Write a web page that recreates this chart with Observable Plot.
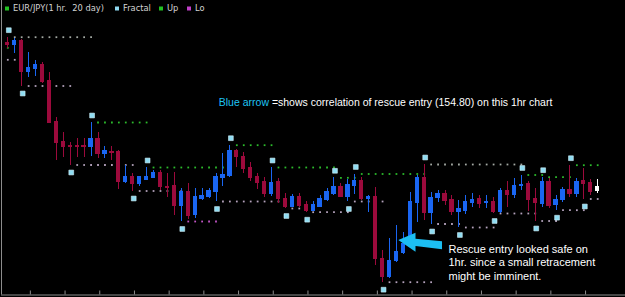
<!DOCTYPE html>
<html><head><meta charset="utf-8">
<script src="https://cdn.jsdelivr.net/npm/d3@7"></script>
<script src="https://cdn.jsdelivr.net/npm/@observablehq/plot@0.6"></script>
<style>
html,body{margin:0;padding:0;background:#000;overflow:hidden}
#chart svg{display:block}
</style>
</head><body><div id="chart"></div>
<script>
// ---- candle data (EUR/JPY, 1 hr bars) ----
const open = [
158.786,158.754,158.826,158.206,158.274,158.354,158.04,157.206,156.806,156.73,
156.73,156.74,156.706,156.874,156.574,156.62,156.606,156.006,156.12,155.974,
156.06,156.094,156.186,155.92,155.94,155.54,155.806,155.35,155.674,155.72,
155.82,156.094,156.14,156.64,156.52,156.294,156.11,156.02,155.774,156.02,
155.674,155.52,155.72,155.554,155.44,155.52,155.654,155.78,155.906,155.72,
155.94,156.04,155.67,155.706,154.474,154.106,154.426,154.586,154.774,155.586,
156.094,155.386,155.694,155.78,155.66,155.406,155.44,155.596,155.67,155.586,
155.62,155.406,155.84,155.756,155.94,155.974,155.674,155.574,156.006,155.554,
155.654,155.854,155.774,156.026,155.986,155.83];
const high = [
158.906,158.89,158.854,158.606,158.44,158.406,158.194,157.306,157.006,156.806,
156.874,156.874,157.2,157.006,156.72,156.72,156.64,156.34,156.174,156.12,
156.3,156.24,156.24,156.18,156.206,155.874,155.974,155.874,155.874,155.886,
156.174,156.574,156.746,156.654,156.606,156.406,156.19,156.106,156.30,156.09,
155.78,155.77,155.774,155.626,155.62,155.74,155.874,156.094,155.974,156.07,
156.17,156.106,155.74,155.906,154.64,154.874,155.14,155.00,155.806,156.14,
156.36,155.806,155.84,155.84,155.74,155.64,155.74,155.774,155.74,155.74,
155.70,155.874,156.02,156.086,156.15,156.03,155.874,156.106,156.074,155.75,
155.906,156.346,156.074,156.29,156.06,156.06];
const low = [
158.674,158.586,157.93,158.106,158.12,157.974,157.174,156.44,156.506,156.35,
156.506,156.506,156.52,156.474,156.474,156.44,155.86,155.974,155.83,155.92,
156.04,156.074,155.84,155.706,155.34,155.22,155.27,155.274,155.64,155.686,
155.62,155.92,156.106,156.306,156.174,156.03,155.86,155.706,155.72,155.59,
155.48,155.494,155.51,155.406,155.424,155.494,155.626,155.74,155.694,155.62,
155.76,155.64,155.406,154.34,154.006,154.09,154.406,154.57,154.74,155.21,
155.24,155.17,155.606,155.54,155.34,155.10,155.36,155.506,155.474,155.474,
155.38,155.39,155.506,155.674,155.84,155.43,155.23,155.506,155.474,155.446,
155.606,155.71,155.70,155.67,155.74,155.774];
const close = [
158.76,158.826,158.206,158.294,158.354,158.02,157.186,156.786,156.706,156.71,
156.71,156.706,156.874,156.574,156.626,156.586,156.006,156.12,155.974,156.106,
156.12,156.186,155.92,155.90,155.54,155.806,155.34,155.706,155.74,155.84,
156.106,156.16,156.64,156.506,156.274,156.09,156.00,155.774,156.00,155.674,
155.52,155.72,155.54,155.43,155.55,155.674,155.806,155.906,155.72,155.96,
156.04,155.666,155.72,154.474,154.106,154.44,154.606,154.774,155.606,156.094,
155.386,155.694,155.774,155.64,155.41,155.474,155.606,155.654,155.57,155.61,
155.406,155.84,155.754,155.93,155.96,155.654,155.586,156.006,155.54,155.66,
155.85,155.774,156.02,155.974,155.81,155.906];
const liveBar = 85;

// ---- fractal bars and the level lines they start ----
const upFractals = [0,12,20,32,38,47,50,60,74,77,81];
const upTone     = ["grey","green","green","green","green","green","green","grey","green","green","green"];
const loFractals = [2,9,18,25,30,40,43,49,54,61,65,70,76,79,83];
const loTone     = ["lo","lo","lo","magenta","lo","lo","lo","lo","lo","lo","lo","lo","lo","lo","lo"];
const priorUpLevel = {level: 158.694, until: 0};
const priorLoLevel = {level: 158.454, until: 2};

// ---- bottom time ticks (bar positions) ----
const timeTicks = [3.25,8.25,13.25,18.25,23.25,28.25,33.25,38.25,43.25,48.25,53.25,58.25,63.25,68.25,73.25,78.25,83.25];

// ---- annotations ----
const arrowIdx    = [56.34, 58.82, 58.82, 62.64];
const arrowTop    = [154.84, 154.986, 154.866, 154.814];
const arrowBottom = [154.84, 154.606, 154.72, 154.654];
const noteHead = {x: 30.4, y: 157.54, lead: "Blue arrow", rest: " =shows correlation of rescue entry (154.80) on this 1hr chart"};
const noteLines = ["Rescue entry looked safe on", "1hr. since a small retracement", "might be imminent."];
const noteX = 63.5;
const noteY = [154.586, 154.326, 154.06];

const legendItems = [
  {label: "EUR/JPY(1 hr.  20 day)", color: "#22c022"},
  {label: "Fractal", color: "#8fd8f0"},
  {label: "Up", color: "#22c022"},
  {label: "Lo", color: "#c040c8"}
];

// ---- build tables ----
const candles = open.map((o, i) => ({i, open: o, high: high[i], low: low[i], close: close[i]}));
const candleColor = d => d.i === liveBar ? "#ffffff" : (d.close >= d.open ? "#1a66f2" : "#9c0a3c");
const toneColor = {green: "#2cbc2c", grey: "#a4aaa4", lo: "#b4a2bc", magenta: "#c455c8"};

const levelDots = [];
const last = open.length - 1;
upFractals.forEach((f, k) => {
  const end = k + 1 < upFractals.length ? upFractals[k + 1] : last;
  for (let i = f + 1; i <= end; i++) levelDots.push({i, v: high[f], tone: upTone[k]});
});
loFractals.forEach((f, k) => {
  const end = k + 1 < loFractals.length ? loFractals[k + 1] : last;
  for (let i = f + 1; i <= end; i++) levelDots.push({i, v: low[f], tone: loTone[k]});
});
for (let i = 0; i <= priorUpLevel.until; i++) levelDots.push({i, v: priorUpLevel.level, tone: "green"});
for (let i = 0; i <= priorLoLevel.until; i++) levelDots.push({i, v: priorLoLevel.level, tone: "lo"});

const arrowPts = arrowIdx.map((x, k) => ({x, t: arrowTop[k], b: arrowBottom[k]}));
const notes = noteLines.map((text, k) => ({x: noteX, y: noteY[k], text}));

const xDomain = [-0.908, 89.006];
const yDomain = [153.75, 159.64];

const chart = Plot.plot({
  width: 625, height: 297,
  marginLeft: 1, marginRight: 0, marginTop: 0, marginBottom: 2.5,
  style: {background: "#000", color: "#8c8c8c", fontFamily: "'Liberation Sans', Arial, sans-serif"},
  x: {domain: xDomain, ticks: timeTicks, tickSize: -4, tickFormat: () => "", label: null},
  y: {domain: yDomain, axis: null},
  marks: [
    Plot.ruleX([xDomain[0]], {stroke: "#8c8c8c"}),
    Plot.ruleY([yDomain[0]], {stroke: "#8c8c8c"}),
    Plot.dot(levelDots, {x: "i", y: "v", symbol: "square", r: 1.0, fill: d => toneColor[d.tone], stroke: null}),
    Plot.ruleX(candles, {x: "i", y1: "low", y2: "high", stroke: candleColor, strokeWidth: 1, shapeRendering: "crispEdges"}),
    Plot.rect(candles, {x1: d => d.i - 0.31, x2: d => d.i + 0.31, y1: "open", y2: "close", fill: candleColor,
      insetTop: -0.5, insetBottom: -0.5, shapeRendering: "crispEdges"}),
    Plot.dot(upFractals, {x: f => f, y: f => high[f], dy: -7, dx: 1, symbol: "square", r: 2.7,
      fill: "#8fdcf2", stroke: "#d2f4fc", strokeWidth: 0.6}),
    Plot.dot(loFractals, {x: f => f, y: f => low[f], dy: 7.5, dx: 1, symbol: "square", r: 2.7,
      fill: "#8fdcf2", stroke: "#d2f4fc", strokeWidth: 0.6}),
    Plot.area(arrowPts, {x1: "x", y1: "t", y2: "b", fill: "#1cbef2", curve: "linear"}),
    Plot.text([noteHead], {x: "x", y: "y", text: d => d.lead + d.rest, textAnchor: "start", lineAnchor: "bottom",
      fill: "#ffffff", fontSize: 10.5}),
    Plot.text(notes, {x: "x", y: "y", text: "text", textAnchor: "start", lineAnchor: "bottom",
      fill: "#ffffff", fontSize: 11})
  ]
});

// color the "Blue arrow" lead of the headline
d3.select(chart).selectAll("text").each(function() {
  const t = this.textContent;
  if (t.startsWith(noteHead.lead)) {
    const sel = d3.select(this);
    sel.text(null);
    sel.append("tspan").attr("fill", "#1ec4f4").text(noteHead.lead);
    sel.append("tspan").attr("fill", "#ffffff").text(noteHead.rest);
  }
});

// legend inside the top-left of the chart
const svg = d3.select(chart);
const lg = svg.append("g")
  .attr("font-family", "'DejaVu Sans', sans-serif").attr("font-size", 8.3)
  .attr("fill", "#d2d2d2").attr("text-anchor", "start");
const lgX = [5, 115, 159, 187];
legendItems.forEach((it, k) => {
  lg.append("rect").attr("x", lgX[k]).attr("y", 6.5).attr("width", 4).attr("height", 4).attr("fill", it.color);
  lg.append("text").attr("x", lgX[k] + 8).attr("y", 11).attr("text-anchor", "start")
    .style("white-space", "pre").text(it.label);
});

document.getElementById("chart").appendChild(chart);
</script>
</body></html>
